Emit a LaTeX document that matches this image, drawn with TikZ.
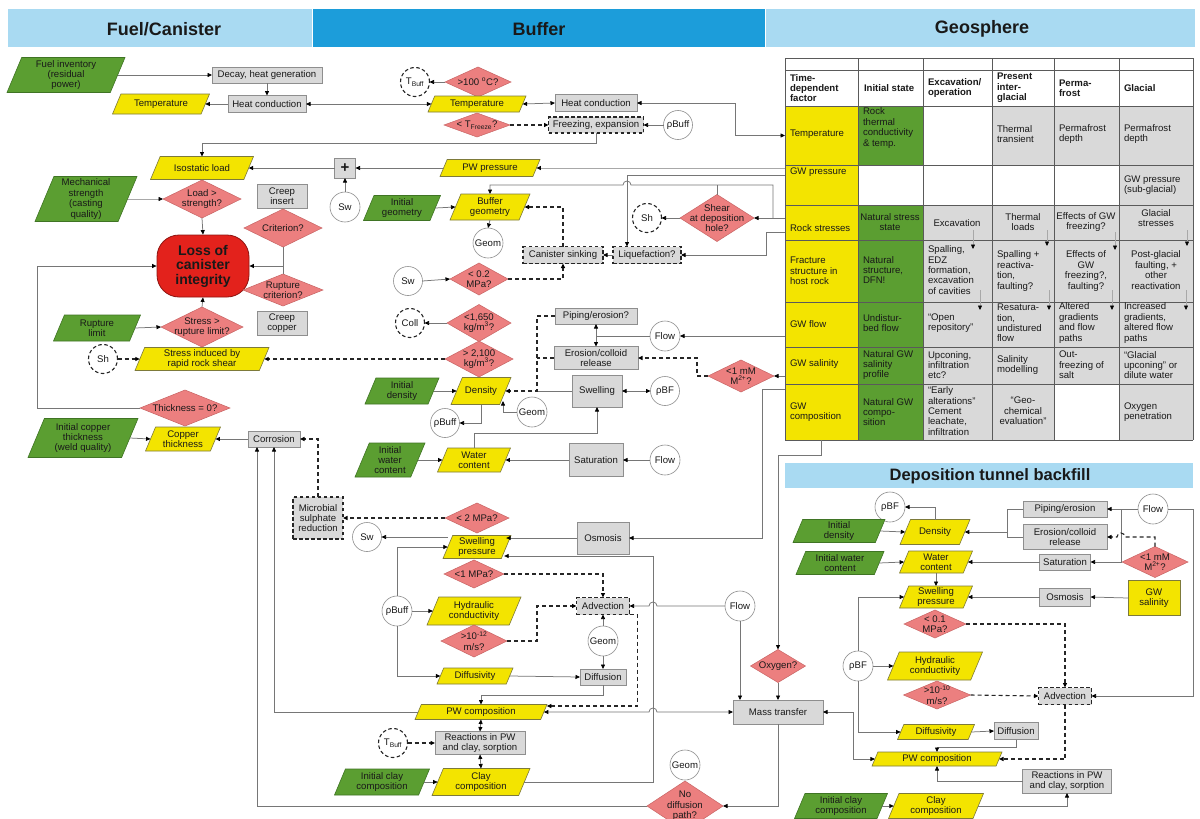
\documentclass[tikz,border=0pt]{standalone}
\usepackage{fontspec}
\setmainfont{Liberation Sans}
\usetikzlibrary{shapes.geometric,arrows.meta}

\definecolor{hlight}{HTML}{A9DAF2}
\definecolor{hdark}{HTML}{1C9DDA}
\definecolor{grn}{HTML}{5B9E31}
\definecolor{gedge}{HTML}{3F7424}
\definecolor{yel}{HTML}{F3E400}
\definecolor{yedge}{HTML}{7D7A3A}
\definecolor{gfill}{HTML}{D9D9D9}
\definecolor{gedgeb}{HTML}{8E8E8E}
\definecolor{pinkf}{HTML}{EC7F7F}
\definecolor{pinke}{HTML}{C86464}
\definecolor{lossred}{HTML}{E3221C}
\definecolor{lossedge}{HTML}{8E1410}
\definecolor{lgray}{HTML}{767676}
\definecolor{llgray}{HTML}{A8A8A8}
\definecolor{gridc}{HTML}{5A5A5A}

\newcommand\fs{\fontsize{9.6}{10.4}\selectfont}

% parallelogram: style, name, x, y, width, height, text
\newcommand\pgram[7]{%
  \path[#1] ({#3-#5/2+0.42*#6},{#4-#6/2}) -- ({#3+#5/2},{#4-#6/2})
    -- ({#3+#5/2-0.42*#6},{#4+#6/2}) -- ({#3-#5/2},{#4+#6/2}) -- cycle;
  \node[txt, minimum width={#5-0.42*#6}, minimum height={#6}] (#2) at (#3,#4) {#7};}
% decision diamond: name, x, y, width, height, text
\newcommand\dia[6]{%
  \node[dnode, minimum width=#4, minimum height=#5] (#1) at (#2,#3) {};
  \node[txt] (#1t) at (#1) {#6};}

\tikzset{
  txt/.style={font=\fs, inner sep=0pt, outer sep=0pt, align=center, text=black!90},
  ypg/.style={fill=yel, draw=yedge, line width=0.6pt},
  gpg/.style={fill=grn, draw=gedge, line width=0.6pt},
  gbox/.style={txt, rectangle, fill=gfill, draw=gedgeb, line width=0.6pt},
  dbox/.style={gbox, draw=black!85, line width=1.1pt, dash pattern=on 3.5pt off 2.5pt},
  ybox/.style={txt, rectangle, fill=yel, draw=yedge, line width=0.6pt},
  circ/.style={txt, circle, fill=white, draw=gedgeb, line width=0.6pt, minimum size=29pt},
  dcirc/.style={circ, draw=black!85, line width=1.1pt, dash pattern=on 3.5pt off 2.5pt},
  dnode/.style={diamond, fill=pinkf, draw=pinke, line width=0.5pt, inner sep=0pt, outer sep=0pt},
  lossn/.style={rectangle, rounded corners=22pt, fill=lossred, draw=lossedge, line width=0.8pt,
    minimum width=92pt, minimum height=62pt, inner sep=0pt, align=center,
    font=\fontsize{14}{14.5}\selectfont\bfseries, text=black!90},
  hdr/.style={font=\fontsize{18}{18}\selectfont\bfseries, inner sep=0pt, text=black!90},
  thd/.style={txt, align=left, font=\fs\bfseries},
  tl/.style={txt, align=left, anchor=west},
  tcn/.style={txt, align=center},
  tcell/.style={rectangle, inner sep=0pt, outer sep=0pt, fill=yel},
  ln/.style={draw=lgray, line width=0.75pt},
  arr/.style={ln, ->},
  darr/.style={ln, <->},
  dsh/.style={draw=black!85, line width=1.1pt, dash pattern=on 4pt off 3pt},
  dsharr/.style={dsh, ->},
  tarr/.style={draw=llgray, line width=0.6pt, ->},
  gridln/.style={draw=gridc, line width=0.7pt},
}

\begin{document}
\begin{tikzpicture}[x=1pt, y=-1pt, >={Triangle[length=4.5pt,width=4pt,color=black]}]
\useasboundingbox (0,0) rectangle (1200,819);
\fill[white] (0,0) rectangle (1200,819);

% ---------- section headers ----------
\fill[hlight] (8,9) rectangle (312,47);
\fill[hdark] (313,9) rectangle (765,47);
\fill[hlight] (766,9) rectangle (1195,47);
\node[hdr] (hFuel) at (164,29) {Fuel/Canister};
\node[hdr] (hBuf) at (539,29) {Buffer};
\node[hdr] (hGeo) at (982,29) {Geosphere};

% ---------- geosphere table ----------
\node[tcell, minimum width=73pt, minimum height=59pt] (tTemp) at (821.5,135.5) {};
\node[tcell, minimum width=73pt, minimum height=40pt] (tGWp) at (821.5,185) {};
\node[tcell, minimum width=73pt, minimum height=35pt] (tRock) at (821.5,222.5) {};
\node[tcell, minimum width=73pt, minimum height=62pt] (tFrac) at (821.5,271) {};
\node[tcell, minimum width=73pt, minimum height=45pt] (tFlow) at (821.5,324.5) {};
\node[tcell, minimum width=73pt, minimum height=37pt] (tSal) at (821.5,365.5) {};
\node[tcell, minimum width=73pt, minimum height=56pt] (tComp) at (821.5,412) {};
\fill[grn] (858,106) rectangle (923,165);
\fill[grn] (858,205) rectangle (923,440);
\fill[gfill] (923,205) rectangle (992,440);
\fill[gfill] (992,106) rectangle (1054,165);
\fill[gfill] (992,205) rectangle (1054,440);
\fill[gfill] (1054,106) rectangle (1119,165);
\fill[gfill] (1054,205) rectangle (1119,384);
\fill[gfill] (1119,106) rectangle (1193,440);
\foreach \yy in {58,70,106,165,205,240,302,347,384,440}
  \draw[gridln] (785,\yy) -- (1193,\yy);
\foreach \xx in {785,858,923,992,1054,1119,1193}
  \draw[gridln] (\xx,58) -- (\xx,440);

\node[thd, anchor=west] (hdA) at (790,88) {Time-\\dependent\\factor};
\node[thd, anchor=west] (hdB) at (864,88) {Initial state};
\node[thd, anchor=west] (hdC) at (928,88) {Excavation/\\operation};
\node[thd, anchor=west] (hdD) at (997,88) {Present\\inter-\\glacial};
\node[thd, anchor=west] (hdE) at (1059,88) {Perma-\\frost};
\node[thd, anchor=west] (hdF) at (1124,88) {Glacial};

\node[tl] (rA1) at (790,134) {Temperature};
\node[tl] (rA2) at (790,172) {GW pressure};
\node[tl] (rA3) at (790,228) {Rock stresses};
\node[tl] (rA4) at (790,271) {Fracture\\structure in\\host rock};
\node[tl] (rA5) at (790,324) {GW flow};
\node[tl] (rA6) at (790,364) {GW salinity};
\node[tl] (rA7) at (790,412) {GW\\composition};

\node[tl] (rB1) at (863,128) {Rock\\thermal\\conductivity\\\& temp.};
\node[tcn] (rB3) at (890,222) {Natural stress\\state};
\node[tl] (rB4) at (863,270) {Natural\\structure,\\DFN!};
\node[tl] (rB5) at (863,323) {Undistur-\\bed flow};
\node[tl] (rB6) at (863,365) {Natural GW\\salinity\\profile};
\node[tl] (rB7) at (863,412) {Natural GW\\compo-\\sition};

\node[tcn] (rC3) at (957,223) {Excavation};
\node[tl] (rC4) at (928,270) {Spalling,\\EDZ\\formation,\\excavation\\of cavities};
\node[tl] (rC5) at (928,323) {“Open\\repository”};
\node[tl] (rC6) at (928,365) {Upconing,\\infiltration\\etc?};
\node[tl] (rC7) at (928,411) {“Early\\alterations”\\Cement\\leachate,\\infiltration};

\node[tl] (rD1) at (997,134) {Thermal\\transient};
\node[tcn] (rD3) at (1023,222) {Thermal\\loads};
\node[tl] (rD4) at (997,271) {Spalling +\\reactiva-\\tion,\\faulting?};
\node[tl] (rD5) at (997,323) {Resatura-\\tion,\\undistured\\flow};
\node[tl] (rD6) at (997,365) {Salinity\\modelling};
\node[tcn] (rD7) at (1023,411) {“Geo-\\chemical\\evaluation”};

\node[tl] (rE1) at (1059,134) {Permafrost\\depth};
\node[tcn] (rE3) at (1086,222) {Effects of GW\\freezing?};
\node[tcn] (rE4) at (1086,271) {Effects of\\GW\\freezing?,\\faulting?};
\node[tl] (rE5) at (1059,323) {Altered\\gradients\\and flow\\paths};
\node[tl] (rE6) at (1059,365) {Out-\\freezing of\\salt};

\node[tl] (rF1) at (1124,134) {Permafrost\\depth};
\node[tl] (rF2) at (1124,185) {GW pressure\\(sub-glacial)};
\node[tcn] (rF3) at (1156,218) {Glacial\\stresses};
\node[tcn] (rF4) at (1156,270) {Post-glacial\\faulting, +\\other\\reactivation};
\node[tl] (rF5) at (1124,323) {Increased\\gradients,\\altered flow\\paths};
\node[tl] (rF6) at (1124,365) {“Glacial\\upconing” or\\dilute water};
\node[tl] (rF7) at (1124,412) {Oxygen\\penetration};

% arrows inside the table
\draw[tarr] (973,230) -- (973,249);
\draw[tarr] (1047,230) -- (1047,246);
\draw[tarr] (1115,232) -- (1115,250);
\draw[tarr] (1187,230) -- (1187,246);
\draw[tarr] (980,290) -- (980,310);
\draw[tarr] (1049,290) -- (1049,310);
\draw[tarr] (1112,290) -- (1112,310);
\draw[tarr] (1186,290) -- (1186,310);

% ---------- fuel / canister ----------
\pgram{gpg}{fuelinv}{66}{75}{118}{35}{Fuel inventory\\(residual\\power)}
\node[gbox, minimum width=110pt, minimum height=16pt] (decay) at (267,75) {Decay, heat generation};
\node[gbox, minimum width=78pt, minimum height=17pt] (hcF) at (267,104) {Heat conduction};
\pgram{ypg}{tempF}{161}{104}{97}{20}{Temperature}
\pgram{ypg}{iso}{202}{168}{103}{23}{Isostatic load}
\node[gbox, minimum width=21pt, minimum height=20pt, font=\fontsize{15}{15}\selectfont\bfseries] (plus) at (345,168) {+};
\node[circ, minimum size=30pt] (swA) at (345,207) {Sw};
\pgram{gpg}{mech}{86}{199}{102}{45}{Mechanical\\strength\\(casting\\quality)}
\dia{loadstr}{202}{199}{78}{38}{Load >\\strength?}
\node[gbox, minimum width=50pt, minimum height=24pt] (creepins) at (282,196) {Creep\\insert};
\dia{crit}{283}{228}{78}{38}{Criterion?}
\node[lossn] (loss) at (203,266) {Loss of\\canister\\integrity};
\dia{rupcrit}{283}{290}{80}{32}{Rupture\\criterion?}
\node[gbox, minimum width=50pt, minimum height=24pt] (creepcu) at (282,323) {Creep\\copper};
\pgram{gpg}{ruplim}{97}{328}{87}{26}{Rupture\\limit}
\dia{stressrup}{202}{327}{82}{40}{Stress >\\rupture limit?}
\node[dcirc] (shA) at (103,359) {Sh};
\pgram{ypg}{stressind}{202}{359}{134}{23}{Stress induced by\\rapid rock shear}
\dia{thick}{185}{408}{90}{36}{Thickness = 0?}
\pgram{ypg}{copth}{183}{439}{75}{24}{Copper\\thickness}
\pgram{gpg}{initcop}{83}{438}{110}{39}{Initial copper\\thickness\\(weld quality)}
\node[gbox, minimum width=52pt, minimum height=16pt] (corr) at (274,439) {Corrosion};

% ---------- buffer ----------
\node[dcirc] (tbuffA) at (415,82) {T\textsubscript{Buff}};
\dia{gthund}{478}{82}{66}{30}{>100 \textsuperscript{o}C?}
\pgram{ypg}{tempB}{477}{104}{98}{16}{Temperature}
\node[gbox, minimum width=82pt, minimum height=17pt] (hcB) at (596,103) {Heat conduction};
\dia{ltfreeze}{477}{125}{66}{24}{< T\textsubscript{Freeze}?}
\node[dbox, minimum width=95pt, minimum height=16pt] (freeze) at (596,125) {Freezing, expansion};
\node[circ] (rhobuffA) at (678,125) {ρBuff};
\pgram{ypg}{pwp}{490}{168}{100}{17}{PW pressure}
\pgram{gpg}{initgeom}{402}{208}{77}{25}{Initial\\geometry}
\pgram{ypg}{bufgeom}{490}{207}{80}{26}{Buffer\\geometry}
\node[circ, minimum size=30pt] (geomA) at (488,243) {Geom};
\dia{shear}{717}{218}{74}{47}{Shear\\at deposition\\hole?}
\node[dcirc] (shB) at (647,218) {Sh};
\node[dbox, minimum width=68pt, minimum height=17pt] (liq) at (647,255) {Liquefaction?};
\node[dbox, minimum width=80pt, minimum height=17pt] (cansink) at (563,255) {Canister sinking};
\node[circ] (swB) at (408,281) {Sw};
\dia{ltzerotwo}{479}{279}{58}{32}{< 0.2\\MPa?}
\node[dcirc] (coll) at (410,323) {Coll};
\dia{ltdens}{479}{323}{64}{37}{<1,650\\kg/m\textsuperscript{3}?}
\dia{gtdens}{479}{359}{68}{36}{> 2,100\\kg/m\textsuperscript{3}?}
\pgram{ypg}{densB}{481}{391}{60}{27}{Density}
\pgram{gpg}{initdensB}{402}{391}{74}{26}{Initial\\density}
\node[circ] (rhobuffB) at (445,423) {ρBuff};
\node[circ, minimum size=30pt] (geomB) at (532,412) {Geom};
\node[gbox, minimum width=82pt, minimum height=16pt] (piping) at (596,316) {Piping/erosion?};
\node[gbox, minimum width=84pt, minimum height=23pt] (erosion) at (596,358) {Erosion/colloid\\release};
\node[circ, minimum size=30pt] (flowA) at (665,336) {Flow};
\dia{mmA}{741}{376}{66}{32}{<1 mM\\M\textsuperscript{2+}?}
\node[gbox, minimum width=50pt, minimum height=32pt] (swelling) at (597,391) {Swelling};
\node[circ] (rhobfA) at (665,391) {ρBF};
\pgram{gpg}{initwatB}{390}{460}{70}{34}{Initial\\water\\content}
\pgram{ypg}{watB}{474}{460}{73}{24}{Water\\content}
\node[gbox, minimum width=54pt, minimum height=33pt] (satB) at (596,460) {Saturation};
\node[circ, minimum size=30pt] (flowB) at (665,460) {Flow};
\node[dbox, minimum width=50pt, minimum height=42pt] (microb) at (318,518) {Microbial\\sulphate\\reduction};
\dia{lttwo}{477}{518}{64}{30}{< 2 MPa?}
\node[circ] (swC) at (367,537) {Sw};
\pgram{ypg}{swpB}{477}{547}{68}{23}{Swelling\\pressure}
\node[gbox, minimum width=52pt, minimum height=32pt] (osmB) at (603,538) {Osmosis};
\dia{ltone}{474}{574}{60}{28}{<1 MPa?}
\node[dbox, minimum width=53pt, minimum height=17pt] (advB) at (603,606) {Advection};
\node[circ, minimum size=30pt] (flowC) at (740,606) {Flow};
\node[circ, minimum size=30pt] (rhobuffC) at (397,611) {ρBuff};
\pgram{ypg}{hydB}{474}{611}{94}{28}{Hydraulic\\conductivity}
\dia{gtk}{474}{641}{66}{32}{>10\textsuperscript{-12}\\m/s?}
\node[circ, minimum size=30pt] (geomC) at (603,641) {Geom};
\pgram{ypg}{diffvB}{475}{676}{76}{16}{Diffusivity}
\node[gbox, minimum width=46pt, minimum height=16pt] (diffB) at (603,677) {Diffusion};
\pgram{ypg}{pwcB}{481}{712}{132}{15}{PW composition}
\node[dcirc] (tbuffB) at (393,743) {T\textsubscript{Buff}};
\node[gbox, minimum width=90pt, minimum height=23pt] (reacB) at (480,743) {Reactions in PW\\and clay, sorption};
\pgram{gpg}{initclayB}{382}{782}{95}{26}{Initial clay\\composition}
\pgram{ypg}{clayB}{481}{782}{98}{27}{Clay\\composition}
\node[gbox, minimum width=90pt, minimum height=24pt] (mass) at (778,712) {Mass transfer};
\dia{oxy}{778}{666}{55}{33}{Oxygen?}
\dia{nodiff}{685}{806}{76}{50}{No\\diffusion\\path?}
\node[circ, minimum size=30pt] (geomD) at (685,765) {Geom};

% ---------- deposition tunnel backfill ----------
\fill[hlight] (785,463) rectangle (1193,488);
\node[hdr, font=\fontsize{16.5}{16.5}\selectfont\bfseries] (hBack) at (990,476) {Deposition tunnel backfill};
\node[circ, minimum size=30pt] (rhobfB) at (890,507) {ρBF};
\pgram{gpg}{initdensC}{839}{531}{92}{23}{Initial\\density}
\pgram{ypg}{densC}{935}{532}{70}{25}{Density}
\node[gbox, minimum width=84pt, minimum height=16pt] (pipC) at (1065,509) {Piping/erosion};
\node[gbox, minimum width=84pt, minimum height=25pt] (eroC) at (1065,537) {Erosion/colloid\\release};
\node[circ, minimum size=30pt] (flowD) at (1153,509) {Flow};
\dia{mmB}{1155}{562}{66}{31}{<1 mM\\M\textsuperscript{2+}?}
\node[ybox, minimum width=52pt, minimum height=35pt] (gwsal) at (1154,598) {GW\\salinity};
\pgram{gpg}{initwatC}{840}{563}{88}{23}{Initial water\\content}
\pgram{ypg}{watC}{936}{562}{73}{22}{Water\\content}
\node[gbox, minimum width=51pt, minimum height=16pt] (satC) at (1065,562) {Saturation};
\pgram{ypg}{swpC}{936}{597}{73}{22}{Swelling\\pressure}
\node[gbox, minimum width=51pt, minimum height=18pt] (osmC) at (1065,597) {Osmosis};
\dia{ltpone}{935}{624}{62}{28}{< 0.1\\MPa?}
\node[circ, minimum size=30pt] (rhobfC) at (858,666) {ρBF};
\pgram{ypg}{hydC}{935}{666}{95}{28}{Hydraulic\\conductivity}
\dia{gtt}{937}{695}{67}{28}{>10\textsuperscript{-10}\\m/s?}
\node[dbox, minimum width=53pt, minimum height=17pt] (advC) at (1065,696) {Advection};
\pgram{ypg}{diffvC}{936}{732}{77}{15}{Diffusivity}
\node[gbox, minimum width=44pt, minimum height=17pt] (diffC) at (1016,731) {Diffusion};
\pgram{ypg}{pwcC}{937}{759}{130}{14}{PW composition}
\node[gbox, minimum width=89pt, minimum height=24pt] (reacC) at (1067,781) {Reactions in PW\\and clay, sorption};
\pgram{gpg}{initclayC}{841}{806}{93}{25}{Initial clay\\composition}
\pgram{ypg}{clayC}{936}{806}{95}{25}{Clay\\composition}

% ---------- connectors: fuel / canister ----------
\draw[arr] (fuelinv.east) -- (decay.west);
\draw[arr] (decay.south) -- (hcF.north);
\draw[arr] (hcF.west) -- (tempF.east);
\draw[darr] (hcF.east) -- (tempB.west);
\draw[arr] (freeze.south) -- ++(0,10) -| (iso.north);
\draw[arr] (plus.west) -- (iso.east);
\draw[arr] (pwp.west) -- (plus.east);
\draw[arr] (swA.north) -- (plus.south);
\draw[arr, draw=llgray] (mech.east) -- (loadstr.west);
\draw[arr] (loadstr.south) -- (loss.north);
\draw[ln] (crit.south) -- (rupcrit.north);
\draw[arr] (crit.south |- loss.east) -- (loss.east);
\draw[arr] (ruplim.east) -- (stressrup.west);
\draw[arr] (stressrup.north) -- (loss.south);
\draw[dsharr] (shA.east) -- (stressind.west);
\draw[arr] (thick.west) -- (37,408) |- (loss.west);
\draw[arr] (initcop.east) -- (copth.west);
\draw[arr] (corr.west) -- (copth.east);
\draw[dsharr] (microb.north) |- (corr.east);
\draw[arr] (pwcB.west) -| (corr.south);
\draw[arr] (nodiff.west) -| ([xshift=-17pt]corr.south);

% ---------- connectors: buffer ----------
\draw[arr] (gthund.west) -- (tbuffA.east);
\draw[darr] (tempB.east) -- (hcB.west);
\draw[darr] (hcB.east) -- ++(98,0) |- (tTemp.west);
\draw[dsharr] (ltfreeze.east) -- (freeze.west);
\draw[arr] (rhobuffA.west) -- (freeze.east);
\draw[arr, draw=llgray] ([yshift=17pt]tGWp.west) -- (pwp.east);
\draw[arr] (initgeom.east) -- (bufgeom.west);
\draw[arr] (bufgeom.south) -- (geomA.north);
\draw[arr] ([yshift=4.5pt]tRock.west) -- (shear.east);
\draw[arr] (773,218) -- (773,185) -- (631,185)
  arc[start angle=0, end angle=180, radius=4pt] -| (bufgeom.north);
\draw[ln] (shear.north) -- ++(0,-10);
\draw[arr] ([yshift=10pt]tGWp.west) -| ([xshift=-20pt]liq.north);
\draw[arr] ([yshift=-9.5pt]tRock.west) -- ++(-19,0) |- (liq.east);
\draw[arr] (shear.west) -- (shB.east);
\draw[arr] (liq.west) -- (cansink.east);
\draw[dsharr] (cansink.north) |- (bufgeom.east);
\draw[arr] (swB.east) -- (ltzerotwo.west);
\draw[dsharr] (ltzerotwo.east) -| (cansink.south);
\draw[arr] (ltdens.west) -- (coll.east);
\draw[dsharr] (gtdens.west) -- (stressind.east);
\draw[arr] (initdensB.east) -- (densB.west);
\draw[ln] (swelling.west) -- (537,391);
\draw[dsharr] (piping.west) -- ++(-18,0) |- (densB.east);
\draw[dsh] (erosion.west) -- ++(-17,0);
\draw[arr] (geomB.west) -- ++(-14,0) -- ++(0,-11);
\draw[arr] (densB.south) |- (rhobuffB.east);
\draw[darr] (piping.south) -- (erosion.north);
\draw[ln] (flowA.west) -- (piping.south |- flowA.west);
\draw[arr] ([yshift=-11.5pt]tFlow.west) -- (flowA.east);
\draw[arr] ([yshift=-10.5pt]tSal.west) -- (mmA.east);
\draw[dsharr] (mmA.west) -- ++(-11,0) |- (erosion.east);
\draw[darr] (swelling.east) -- (rhobfA.west);
\draw[arr] (initwatB.east) -- (watB.west);
\draw[arr] (satB.west) -- (watB.east);
\draw[arr] (flowB.west) -- (satB.east);
\draw[arr] (watB.north) -- ++(0,-15) -| (swelling.south);
\draw[dsharr] (lttwo.west) -- (microb.east);
\draw[arr] (swpB.west |- swC.east) -- (swC.east);
\draw[arr] (osmB.west) -- (osmB.west -| swpB.east);
\draw[arr] ([yshift=23pt]tComp.west) -- ++(-23,0) |- (osmB.east);
\draw[arr] (rhobuffC.north) |- (swpB.west);
\draw[arr] (rhobuffC.east) -- (hydB.west);
\draw[arr] (rhobuffC.south) |- (diffvB.west);
\draw[dsharr] (ltone.east) -| (advB.north);
\draw[dsharr] (gtk.east) -- ++(30,0) |- (advB.west);
\draw[arr] (flowC.west) -- (657,606)
  arc[start angle=0, end angle=180, radius=4pt] -- (advB.east);
\draw[arr] (flowC.south) -- (flowC.south |- mass.north);
\draw[arr] (geomC.north) -- (advB.south);
\draw[arr] (geomC.south) -- (diffB.north);
\draw[arr] (diffvB.east) -- (diffB.west);
\draw[arr] (diffB.south) -- ++(0,10) -| (pwcB.north);
\draw[dsharr] (advB.south east) -- ++(8,0) |- ([xshift=3pt,yshift=6pt]pwcB.east);
\draw[darr] (pwcB.east) -- (649,712)
  arc[start angle=180, end angle=0, radius=4pt] -- (mass.west);
\draw[darr] (pwcB.south) -- (reacB.north);
\draw[darr] (reacB.south) -- (clayB.north);
\draw[dsharr] (tbuffB.east) -- (reacB.west);
\draw[arr] (initclayB.east) -- (clayB.west);
\draw[arr] (clayB.east) -| (653,556) -- ([xshift=-2pt,yshift=-9pt]swpB.east);
\draw[arr] (tComp.south) -- ++(0,15) -| (oxy.north);
\draw[arr] (oxy.south) -- (mass.north);
\draw[darr] (mass.east) -- ++(30,0) |- (pwcC.west);
\draw[arr] (mass.south) |- (nodiff.east);

% ---------- connectors: backfill ----------
\draw[arr] (initdensC.east) -- (densC.west);
\draw[arr] (densC.north) |- (rhobfB.east);
\draw[ln] (pipC.west) -- ++(-16,0) |- (eroC.west);
\draw[arr] ([xshift=-16pt,yshift=5pt]eroC.west) -- (densC.east);
\draw[arr] (flowD.west) -- (pipC.east);
\draw[arr] (flowD.east) -- ++(25,0) |- (advC.east);
\draw[arr] ([xshift=14pt]pipC.east) |- (satC.east);
\draw[dsharr] (mmB.north) -- ++(0,-9.5) -- (1125,537)
  arc[start angle=0, end angle=180, radius=4pt] -- (eroC.east);
\draw[arr] (gwsal.west) -- (osmC.east);
\draw[arr] (satC.west) -- (watC.east);
\draw[arr] (osmC.west) -- (swpC.east);
\draw[arr] (initwatC.east) -- (watC.west);
\draw[arr] (watC.south) -- (swpC.north);
\draw[arr] (rhobfC.north) |- (swpC.west);
\draw[arr] (rhobfC.east) -- (hydC.west);
\draw[arr] (rhobfC.south) |- (diffvC.west);
\draw[dsharr] (ltpone.east) -| (advC.north);
\draw[dsharr] (gtt.east) -- (advC.west);
\draw[dsharr] (advC.south) |- (pwcC.east);
\draw[arr] (diffvC.east) -- (diffC.west);
\draw[arr] (diffC.south) -- ++(0,8) -| (pwcC.north);
\draw[arr] (reacC.west) -| (pwcC.south);
\draw[arr] (clayC.east) -| (reacC.south);
\draw[arr] (initclayC.east) -- (clayC.west);
\end{tikzpicture}
\end{document}
